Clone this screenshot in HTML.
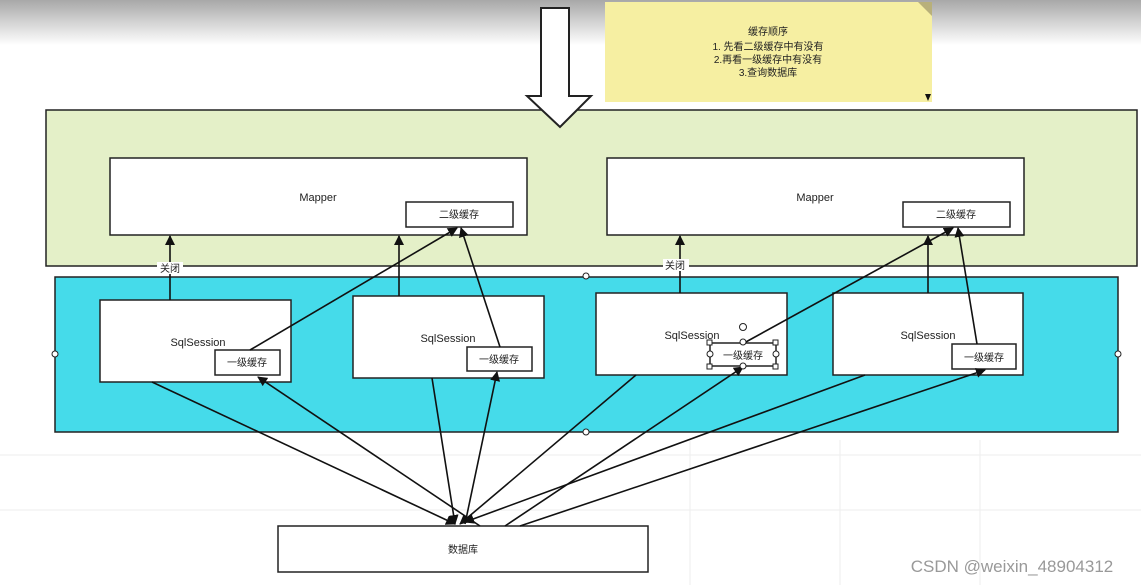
<!DOCTYPE html>
<html><head><meta charset="utf-8"><style>
html,body{margin:0;padding:0;background:#fff;}
svg{display:block;}
text{font-family:"Liberation Sans","Noto Sans CJK SC",sans-serif;fill:#222;}
</style></head><body>
<svg width="1141" height="585" viewBox="0 0 1141 585" xmlns="http://www.w3.org/2000/svg">
<defs>
<linearGradient id="tg" x1="0" y1="0" x2="0" y2="1">
<stop offset="0" stop-color="#a8a8a8"/><stop offset="1" stop-color="#ffffff"/>
</linearGradient>
<marker id="a" markerWidth="10" markerHeight="10" refX="9" refY="5" orient="auto" markerUnits="userSpaceOnUse">
<path d="M0,0 L10,5 L0,10 z" fill="#111"/>
</marker>
</defs>
<rect x="0" y="0" width="1141" height="45" fill="url(#tg)"/>
<g stroke="#eeeeee" stroke-width="1">
<line x1="0" y1="455" x2="1141" y2="455"/><line x1="0" y1="510" x2="1141" y2="510"/>
<line x1="690" y1="440" x2="690" y2="585"/><line x1="840" y1="440" x2="840" y2="585"/><line x1="980" y1="440" x2="980" y2="585"/>
</g>
<!-- note -->
<rect x="605" y="2" width="327" height="100" fill="#f6efa2"/>
<path d="M918,2 L932,2 L932,16 z" fill="#b8b07a"/>
<path d="M925,94 L931,94 L928,101 z" fill="#111"/>
<text x="768" y="35" font-size="10" text-anchor="middle">缓存顺序</text>
<text x="768" y="50" font-size="10" text-anchor="middle">1. 先看二级缓存中有没有</text>
<text x="768" y="63" font-size="10" text-anchor="middle">2.再看一级缓存中有没有</text>
<text x="768" y="76" font-size="10" text-anchor="middle">3.查询数据库</text>
<!-- green -->
<rect x="46" y="110" width="1091" height="156" fill="#e4f0c8" stroke="#222" stroke-width="1.5"/>
<rect x="110" y="158" width="417" height="77" fill="#fff" stroke="#222" stroke-width="1.5"/>
<text x="318" y="201" font-size="11" text-anchor="middle">Mapper</text>
<rect x="406" y="202" width="107" height="25" fill="#fff" stroke="#222" stroke-width="1.5"/>
<text x="459" y="218" font-size="10" text-anchor="middle">二级缓存</text>
<rect x="607" y="158" width="417" height="77" fill="#fff" stroke="#222" stroke-width="1.5"/>
<text x="815" y="201" font-size="11" text-anchor="middle">Mapper</text>
<rect x="903" y="202" width="107" height="25" fill="#fff" stroke="#222" stroke-width="1.5"/>
<text x="956" y="218" font-size="10" text-anchor="middle">二级缓存</text>
<!-- hollow arrow -->
<path d="M541,8 L569,8 L569,96 L591,96 L560,127 L527,96 L541,96 z" fill="#fff" stroke="#222" stroke-width="2"/>
<!-- cyan -->
<rect x="55" y="277" width="1063" height="155" fill="#45dbea" stroke="#222" stroke-width="1.5"/>
<g fill="#fff" stroke="#222" stroke-width="1.5">
<rect x="100" y="300" width="191" height="82"/>
<rect x="353" y="296" width="191" height="82"/>
<rect x="596" y="293" width="191" height="82"/>
<rect x="833" y="293" width="190" height="82"/>
<rect x="215" y="350" width="65" height="25"/>
<rect x="467" y="347" width="65" height="24"/>
<rect x="710" y="343" width="66" height="23"/>
<rect x="952" y="344" width="64" height="25"/>
<rect x="278" y="526" width="370" height="46"/>
</g>
<text x="198" y="346" font-size="11" text-anchor="middle">SqlSession</text>
<text x="448" y="342" font-size="11" text-anchor="middle">SqlSession</text>
<text x="692" y="339" font-size="11" text-anchor="middle">SqlSession</text>
<text x="928" y="339" font-size="11" text-anchor="middle">SqlSession</text>
<text x="247" y="366" font-size="10" text-anchor="middle">一级缓存</text>
<text x="499" y="363" font-size="10" text-anchor="middle">一级缓存</text>
<text x="743" y="359" font-size="10" text-anchor="middle">一级缓存</text>
<text x="984" y="361" font-size="10" text-anchor="middle">一级缓存</text>
<text x="463" y="553" font-size="10" text-anchor="middle">数据库</text>
<!-- connectors -->
<g stroke="#111" stroke-width="1.6" fill="none" marker-end="url(#a)">
<line x1="170" y1="300" x2="170" y2="236"/>
<line x1="250" y1="350" x2="457" y2="228"/>
<line x1="399" y1="296" x2="399" y2="236"/>
<line x1="500" y1="347" x2="461" y2="228"/>
<line x1="680" y1="293" x2="680" y2="236"/>
<line x1="744" y1="343" x2="953" y2="228"/>
<line x1="928" y1="293" x2="928" y2="236"/>
<line x1="977" y1="344" x2="958" y2="228"/>
<line x1="152" y1="382" x2="455" y2="524"/>
<line x1="480" y1="526" x2="258" y2="377"/>
<line x1="432" y1="378" x2="455" y2="524"/>
<line x1="465" y1="524" x2="497" y2="372"/>
<line x1="636" y1="375" x2="460" y2="524"/>
<line x1="505" y1="526" x2="743" y2="367"/>
<line x1="865" y1="375" x2="465" y2="522"/>
<line x1="520" y1="526" x2="985" y2="370"/>
</g>
<rect x="157" y="262" width="26" height="12" fill="#fff"/>
<text x="170" y="272" font-size="10" text-anchor="middle">关闭</text>
<rect x="663" y="259" width="26" height="12" fill="#fff"/>
<text x="675" y="269" font-size="10" text-anchor="middle">关闭</text>
<g fill="#fff" stroke="#222" stroke-width="1">
<circle cx="586" cy="276" r="3"/><circle cx="586" cy="432" r="3"/>
<circle cx="55" cy="354" r="3"/><circle cx="1118" cy="354" r="3"/>
<circle cx="743" cy="327" r="3.5"/><circle cx="743" cy="342" r="3"/><circle cx="743" cy="366" r="3"/>
<circle cx="710" cy="354" r="3"/><circle cx="776" cy="354" r="3"/>
<rect x="707" y="340" width="5" height="5"/><rect x="773" y="340" width="5" height="5"/>
<rect x="707" y="364" width="5" height="5"/><rect x="773" y="364" width="5" height="5"/>
</g>
<text x="1012" y="572" font-size="17" text-anchor="middle" style="fill:#999">CSDN @weixin_48904312</text>
</svg>
</body></html>
